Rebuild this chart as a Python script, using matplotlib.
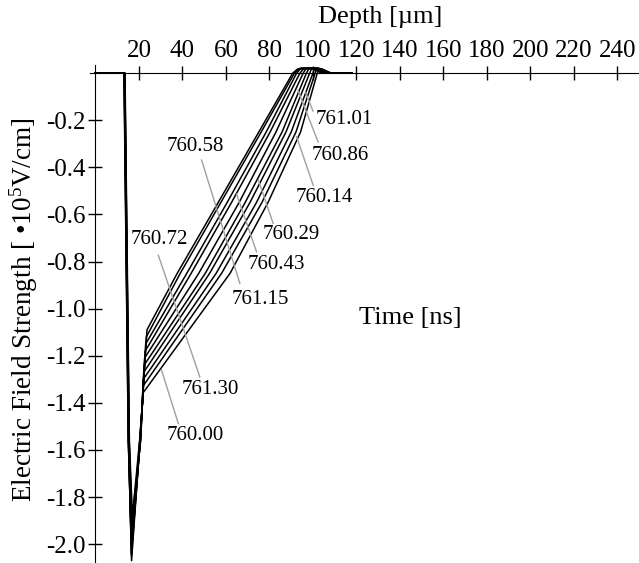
import matplotlib
matplotlib.use('Agg')
import matplotlib.pyplot as plt

plt.rcParams['font.family'] = ['Liberation Serif', 'DejaVu Serif']
plt.rcParams['mathtext.fontset'] = 'custom'
plt.rcParams['mathtext.rm'] = 'Liberation Serif'
plt.rcParams['mathtext.default'] = 'regular'
plt.rcParams['axes.unicode_minus'] = False

# curves ordered from the leftmost (upper) one to the rightmost (lower) one
times = ['760.72', '760.58', '760.86', '760.43', '761.01',
         '760.29', '761.15', '760.14', '761.30', '760.00']
start_depth = [13.6, 13.5, 13.5, 13.4, 13.4, 13.3, 13.3, 13.2, 13.2, 13.1]
dip_depth = [15.6, 15.5, 15.5, 15.4, 15.3, 15.3, 15.2, 15.2, 15.1, 15.1]      # left leg at -1.56
min_depth = [17.0, 16.9, 16.8, 16.8, 16.7, 16.6, 16.6, 16.5, 16.5, 16.4]
min_field = [-1.88, -1.92, -1.96, -1.99, -2.02, -2.05, -2.07, -2.04, -2.00, -1.94]
rise_depth = [20.8, 20.7, 20.7, 20.6, 20.6, 20.5, 20.5, 20.4, 20.4, 20.3]     # right leg at -1.56
knee_depth = [23.7, 23.4, 23.1, 22.9, 22.6, 22.4, 22.2, 22.0, 21.8, 21.7]
knee_field = [-1.09, -1.12, -1.15, -1.18, -1.21, -1.24, -1.27, -1.30, -1.33, -1.36]
depth_085 = [37.6, 39.0, 42.0, 44.0, 47.5, 50.5, 52.5, 55.5, 58.0, 61.9]      # at -0.85
depth_055 = [56.4, 57.6, 60.5, 62.5, 66.0, 68.8, 71.0, 74.0, 76.5, 79.3]      # at -0.55
depth_025 = [75.1, 76.2, 78.5, 80.3, 83.0, 85.8, 87.6, 90.0, 92.2, 94.3]      # at -0.25
zero_depth = [90.7, 91.5, 92.5, 94.0, 95.5, 97.0, 98.5, 100.0, 101.0, 102.0]
hump_left = [93.0, 93.8, 94.6, 95.8, 97.0, 98.2, 99.4, 100.6, 101.6, 102.6]
hump_right = [100.0, 100.5, 101.0, 101.5, 102.0, 102.5, 103.0, 103.5, 104.0, 104.5]
hump_field = [0.018, 0.020, 0.022, 0.020, 0.022, 0.021, 0.020, 0.019, 0.018, 0.016]
settle_depth = [104.0, 104.5, 105.0, 105.5, 106.0, 106.5, 107.0, 107.5, 108.0, 108.5]
tail_depth = 118.0

x_ticks = [20, 40, 60, 80, 100, 120, 140, 160, 180, 200, 220, 240]
y_ticks = [-0.2, -0.4, -0.6, -0.8, -1.0, -1.2, -1.4, -1.6, -1.8, -2.0]

# label text centres and leader lines (depth, field)
label_pos = {
    '761.01': (114.3, -0.195), '760.86': (112.4, -0.348), '760.14': (105.1, -0.527),
    '760.58': (45.7, -0.31), '760.29': (89.9, -0.684), '760.43': (83.0, -0.811),
    '760.72': (29.2, -0.705), '761.15': (75.6, -0.962), '761.30': (52.6, -1.342),
    '760.00': (45.7, -1.537),
}
leaders = {
    '761.01': ((100.0, -0.161), (96.6, -0.081)),
    '760.86': ((102.4, -0.293), (93.1, -0.072)),
    '760.14': ((100.1, -0.476), (92.5, -0.270)),
    '760.58': ((48.8, -0.369), (57.6, -0.631)),
    '761.15': ((66.4, -0.893), (57.6, -0.631)),
    '760.29': ((81.7, -0.638), (74.9, -0.454)),
    '760.43': ((74.1, -0.759), (64.9, -0.514)),
    '760.72': ((28.9, -0.773), (38.4, -1.03)),
    '761.30': ((48.0, -1.290), (38.4, -1.03)),
    '760.00': ((38.1, -1.488), (30.4, -1.261)),
}

fig = plt.figure(figsize=(6.39, 5.63), dpi=100)
ax = fig.add_axes([90 / 639, 0.0, 549 / 639, 498 / 563])

for i in range(len(times)):
    xs = [0, start_depth[i], dip_depth[i], min_depth[i], rise_depth[i], 21.6,
          knee_depth[i], depth_085[i], depth_055[i], depth_025[i], zero_depth[i],
          hump_left[i], hump_right[i], settle_depth[i], tail_depth]
    ys = [0, 0, -1.56, min_field[i], -1.56, -1.40,
          knee_field[i], -0.85, -0.55, -0.25, 0,
          hump_field[i], hump_field[i], 0, 0]
    ax.plot(xs, ys, color='black', lw=1.1, solid_joinstyle='round')

for name, (p1, p2) in leaders.items():
    ax.plot([p1[0], p2[0]], [p1[1], p2[1]], color='#a0a0a0', lw=1.0)
for name, (tx, ty) in label_pos.items():
    ax.text(tx, ty, name, ha='center', va='center', fontsize=15)

ax.text(144.6, -1.04, 'Time [ns]', ha='center', va='center', fontsize=19)

ax.set_xlim(-2.5, 249.9)
ax.set_ylim(-2.08, 0.0346)
ax.spines['left'].set_position(('data', 0))
ax.spines['top'].set_position(('data', 0))
ax.spines['right'].set_visible(False)
ax.spines['bottom'].set_visible(False)
ax.xaxis.tick_top()
ax.set_xticks(x_ticks)
ax.set_yticks(y_ticks)
ax.set_yticklabels(['%.1f' % v for v in y_ticks])
ax.tick_params(axis='x', direction='inout', length=10, width=1, labelsize=18, pad=3)
ax.tick_params(axis='y', direction='inout', length=10, width=1, labelsize=18, pad=2)
ax.patch.set_alpha(0)

fig.text(380 / 639, 1 - 17 / 563, 'Depth [µm]', ha='center', va='center', fontsize=19)
fig.text(24 / 639, 1 - 310 / 563, 'Electric Field Strength [ •10$^5$V/cm]',
         ha='center', va='center', rotation=90, fontsize=19.5)

fig.savefig('out.png', dpi=100)
